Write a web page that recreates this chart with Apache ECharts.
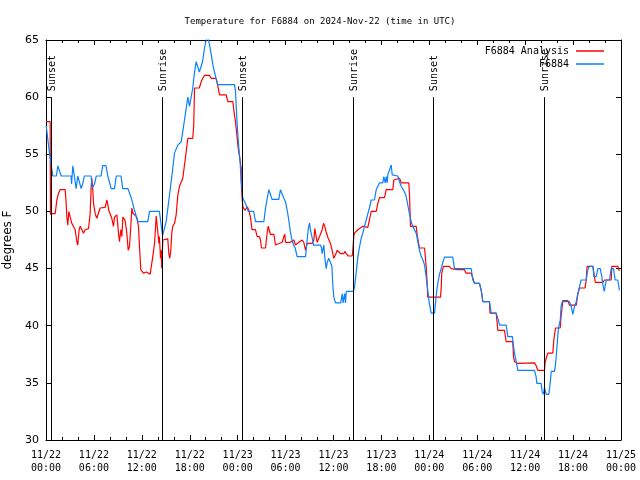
<!DOCTYPE html>
<html><head><meta charset="utf-8">
<script src="https://cdn.jsdelivr.net/npm/echarts@6/dist/echarts.min.js"></script>
<style>html,body{margin:0;padding:0;background:#fff}#c{width:640px;height:480px}</style>
</head><body><div id="c"></div>
<script>
// Hours since 2024-11-22 00:00 UTC, temperature in deg F
const analysis = [[0.02,57.85],[0.52,57.85],[0.56,49.7],[0.6,51.7],[0.65,49.8],[1.15,49.8],[1.36,51.0],[1.57,51.6],[1.77,51.9],[2.4,51.9],[2.52,50.8],[2.61,49.5],[2.73,48.8],[2.86,50.0],[3.03,49.5],[3.23,48.96],[3.44,48.8],[3.65,48.4],[3.86,47.35],[3.98,47.06],[4.15,48.4],[4.28,48.7],[4.49,48.6],[4.7,48.1],[4.9,48.4],[5.11,48.45],[5.32,48.5],[5.53,49.8],[5.66,52.2],[5.74,52.9],[5.86,51.9],[5.95,50.7],[6.16,49.8],[6.36,49.4],[6.57,49.5],[6.78,50.3],[7.41,50.35],[7.62,51.0],[7.74,50.6],[7.86,50.1],[8.03,49.8],[8.24,49.4],[8.45,48.7],[8.58,49.5],[8.7,49.4],[8.87,49.7],[9.08,48.1],[9.2,47.35],[9.37,48.4],[9.5,47.8],[9.62,49.5],[9.83,49.5],[9.91,49.2],[10.12,48.1],[10.29,46.6],[10.45,46.9],[10.62,48.7],[10.75,50.3],[10.87,49.85],[11.37,49.5],[11.58,48.7],[11.7,47.0],[11.87,44.9],[12.2,44.6],[12.6,44.7],[13.04,44.5],[13.25,44.5],[13.37,46.05],[13.59,47.2],[13.8,49.6],[14.0,48.2],[14.13,47.2],[14.2,47.8],[14.34,45.9],[14.42,46.6],[14.5,45.0],[14.63,47.5],[15.25,47.6],[15.38,46.3],[15.5,45.9],[15.63,46.6],[15.75,48.1],[15.88,48.7],[16.09,48.96],[16.3,49.7],[16.5,51.4],[16.72,52.2],[17.13,52.9],[17.34,54.06],[17.55,55.2],[17.76,56.4],[18.38,56.4],[18.5,57.56],[18.6,60.8],[19.2,60.8],[19.43,61.35],[19.63,61.65],[19.85,61.9],[20.47,61.9],[20.68,61.65],[21.3,61.65],[21.5,61.06],[21.73,60.2],[22.56,60.2],[22.77,59.6],[23.4,59.6],[23.6,58.4],[23.73,57.85],[23.9,56.7],[24.02,55.8],[24.23,55.8],[24.44,53.8],[24.48,51.9],[24.65,50.4],[24.9,50.1],[25.2,50.4],[25.4,50.1],[25.6,49.5],[25.73,48.8],[25.8,48.4],[26.23,48.4],[26.44,47.8],[26.57,47.65],[26.73,47.8],[26.86,47.5],[26.98,46.8],[27.49,46.8],[27.7,48.2],[27.82,48.7],[28.1,48.0],[28.53,48.0],[28.74,47.06],[29.57,47.3],[29.78,47.8],[29.9,48.0],[29.99,47.3],[30.6,47.3],[31.03,47.5],[31.24,47.06],[31.45,46.9],[31.66,47.3],[32.08,47.5],[32.28,47.3],[32.5,46.6],[32.7,47.2],[33.33,47.2],[33.54,47.5],[33.66,48.5],[33.83,47.8],[33.96,47.3],[34.25,47.8],[34.41,47.9],[34.58,48.4],[34.75,48.96],[34.91,48.7],[35.08,48.2],[35.33,47.65],[35.62,47.2],[35.83,46.6],[36.04,45.9],[36.25,46.2],[36.46,46.6],[36.88,46.3],[37.29,46.3],[37.42,46.5],[37.6,46.3],[37.84,46.1],[38.34,46.1],[38.42,46.6],[38.55,47.9],[38.63,48.1],[39.05,48.4],[39.67,48.7],[40.3,48.6],[40.5,49.25],[40.72,50.0],[41.35,50.0],[41.55,50.7],[41.76,51.2],[42.39,51.2],[42.6,51.9],[43.43,51.9],[43.55,52.75],[43.64,52.9],[44.27,52.9],[44.48,52.5],[45.43,52.5],[45.52,51.4],[45.64,48.7],[46.36,48.7],[46.48,47.9],[46.77,46.8],[47.4,46.8],[47.6,45.2],[47.73,43.7],[47.8,42.5],[49.4,42.5],[49.5,43.5],[49.55,44.6],[49.77,45.2],[50.5,45.2],[50.73,45.0],[51.56,44.9],[52.4,44.9],[52.6,44.6],[53.24,44.6],[53.45,44.15],[53.66,43.7],[54.28,43.7],[54.5,43.1],[54.7,42.1],[55.53,42.1],[55.6,41.1],[56.37,41.1],[56.58,39.6],[57.41,39.6],[57.62,38.6],[58.45,38.6],[58.54,37.3],[58.67,36.85],[59.08,36.7],[61.17,36.75],[61.38,36.5],[61.58,36.1],[62.42,36.1],[62.5,36.8],[62.63,37.15],[62.83,37.6],[63.46,37.6],[63.59,38.75],[63.8,39.8],[64.39,39.8],[64.5,40.8],[64.64,41.7],[64.72,42.2],[65.34,42.2],[65.55,41.8],[66.4,41.8],[66.6,42.8],[66.8,43.3],[67.5,43.3],[67.64,44.0],[67.76,45.2],[68.47,45.2],[68.68,44.3],[68.77,43.8],[69.72,43.8],[69.93,44.0],[70.77,44.0],[70.85,45.2],[71.6,45.2],[71.74,44.9],[71.8,44.8]];

const observed = [[0.03,57.5],[0.19,56.5],[0.44,55.1],[0.63,54.2],[0.85,53.1],[1.3,53.1],[1.48,54.0],[1.7,54.0],[1.9,53.1],[3.15,53.1],[3.2,52.4],[3.36,54.0],[3.57,54.0],[3.78,52.0],[3.98,53.1],[4.2,53.1],[4.4,52.0],[4.6,52.4],[4.8,53.1],[5.66,53.1],[5.76,52.0],[6.07,52.4],[6.3,53.1],[6.9,53.1],[7.1,54.0],[7.5,54.0],[7.74,53.1],[7.95,53.1],[8.16,52.0],[8.58,52.0],[8.8,53.1],[9.4,53.1],[9.6,52.0],[10.25,52.0],[10.67,51.2],[10.87,51.2],[11.08,50.1],[11.3,50.1],[11.5,49.1],[12.75,49.1],[12.96,50.0],[14.2,50.0],[14.4,48.9],[14.6,47.9],[14.8,48.0],[15.05,49.1],[15.26,50.3],[15.46,51.4],[15.67,52.6],[15.88,53.8],[16.09,55.1],[16.5,55.8],[16.93,56.1],[17.13,57.0],[17.34,58.0],[17.55,59.0],[17.76,60.0],[17.97,59.2],[18.18,59.2],[18.38,60.8],[18.6,62.2],[18.8,63.1],[19.0,63.1],[19.2,62.2],[19.4,62.2],[19.6,63.1],[19.85,64.3],[20.06,65.0],[20.26,65.3],[20.47,64.6],[20.7,63.7],[20.9,62.8],[21.1,62.2],[21.3,61.6],[21.5,61.1],[23.6,61.1],[23.73,60.5],[23.9,58.1],[24.0,57.0],[24.15,55.5],[24.3,54.4],[24.44,52.6],[24.65,51.15],[24.98,50.7],[25.32,50.0],[26.0,50.0],[26.23,49.1],[27.28,49.1],[27.49,50.3],[27.7,51.15],[27.9,51.9],[28.1,51.5],[28.3,51.06],[29.15,51.06],[29.36,51.9],[29.57,51.9],[29.78,51.15],[29.99,50.85],[30.2,50.1],[30.4,49.25],[30.6,48.2],[30.8,47.5],[31.0,47.06],[31.2,46.8],[31.45,46.05],[32.5,46.05],[32.7,47.5],[32.83,48.4],[33.0,49.0],[33.1,48.4],[33.3,47.8],[33.5,47.06],[34.37,47.06],[34.5,46.8],[34.58,46.3],[34.79,47.06],[34.9,46.05],[35.08,45.0],[35.2,45.5],[35.4,45.9],[35.6,45.9],[35.8,45.2],[35.9,43.7],[36.04,42.5],[36.25,42.0],[36.9,42.0],[37.1,42.8],[37.2,42.0],[37.4,42.8],[37.5,42.0],[37.6,43.0],[38.5,43.0],[38.63,43.4],[38.84,44.6],[39.05,46.05],[39.26,46.9],[39.47,47.65],[39.67,48.1],[39.88,48.7],[40.1,49.25],[40.3,49.8],[40.5,50.3],[40.72,51.0],[41.13,51.0],[41.35,51.9],[41.76,52.5],[42.17,52.5],[42.3,53.04],[42.47,52.5],[42.6,53.04],[42.72,52.5],[42.8,53.2],[43.0,53.6],[43.23,54.06],[43.35,53.2],[44.05,53.1],[44.27,52.6],[44.48,52.2],[44.9,51.7],[45.1,51.3],[45.3,50.6],[45.5,49.8],[45.73,49.1],[45.93,48.7],[46.14,48.4],[46.36,48.1],[46.56,47.35],[46.77,46.6],[46.98,46.05],[47.2,45.75],[47.4,45.3],[47.6,44.3],[47.8,43.1],[48.0,41.96],[48.23,41.1],[48.65,41.1],[48.77,41.96],[48.94,43.1],[49.06,43.7],[49.27,44.5],[49.48,45.0],[49.77,45.75],[49.9,46.0],[50.94,46.0],[51.15,45.0],[53.24,45.0],[53.45,44.0],[53.66,43.7],[54.28,43.7],[54.5,43.1],[54.7,42.1],[55.53,42.1],[55.75,41.1],[56.37,41.1],[56.58,40.65],[56.8,40.06],[57.62,40.06],[57.83,39.04],[58.4,39.04],[58.54,38.2],[58.67,37.6],[58.88,36.85],[59.08,36.1],[61.17,36.1],[61.38,35.5],[61.46,34.96],[62.0,34.96],[62.13,34.23],[62.3,34.0],[62.42,34.6],[62.63,34.0],[62.96,34.0],[63.14,35.0],[63.26,36.0],[63.67,36.0],[63.8,36.6],[63.96,37.9],[64.09,39.2],[64.2,39.9],[64.4,40.5],[64.5,41.7],[64.64,42.1],[65.55,42.1],[65.76,41.7],[65.97,41.0],[66.18,41.7],[66.4,42.1],[66.6,42.8],[66.8,43.4],[67.0,44.0],[67.64,44.0],[67.84,44.9],[68.06,45.2],[68.5,45.2],[68.6,44.3],[68.9,44.3],[69.1,45.0],[69.4,45.0],[69.6,44.3],[69.7,43.7],[69.9,43.0],[70.15,44.0],[70.56,44.0],[70.77,45.0],[71.06,45.0],[71.27,44.0],[71.6,44.0],[71.8,43.1]];

const eventTimes = [0.6, 14.5, 24.5, 38.5, 48.5, 62.4];
const eventNames = ['Sunset', 'Sunrise', 'Sunset', 'Sunrise', 'Sunset', 'Sunrise'];
const eventTop = 60;
const xTickLabels = ['11/22\n00:00','11/22\n06:00','11/22\n12:00','11/22\n18:00','11/23\n00:00','11/23\n06:00','11/23\n12:00','11/23\n18:00','11/24\n00:00','11/24\n06:00','11/24\n12:00','11/24\n18:00','11/25\n00:00'];
const seriesNames = ['F6884 Analysis', 'F6884'];
const titleText = 'Temperature for F6884 on 2024-Nov-22 (time in UTC)';
const yName = 'degrees F';

const MONO = '"DejaVu Sans Mono", "Liberation Mono", monospace';
const SANS = '"DejaVu Sans", "Liberation Sans", sans-serif';

const chart = echarts.init(document.getElementById('c'), null, {renderer: 'canvas'});
const xBase = {
  type: 'value', min: 0, max: 72, interval: 6,
  axisLine: {show: true, onZero: false, lineStyle: {color: '#000', width: 1}},
  axisTick: {show: true, inside: true, length: 5, lineStyle: {color: '#000'}},
  minorTick: {show: true, splitNumber: 3, length: 3, lineStyle: {color: '#000'}},
  splitLine: {show: false}, minorSplitLine: {show: false}
};
const yBase = {
  type: 'value', min: 30, max: 65, interval: 5,
  axisLine: {show: true, onZero: false, lineStyle: {color: '#000', width: 1}},
  axisTick: {show: true, inside: true, length: 5, lineStyle: {color: '#000'}},
  splitLine: {show: false}
};
chart.setOption({
  backgroundColor: '#fff',
  animation: false,
  title: {
    text: titleText, left: 'center', top: 12,
    textStyle: {fontFamily: MONO, fontSize: 9, fontWeight: 'normal', color: '#000'}
  },
  legend: {
    data: seriesNames, orient: 'vertical', right: 31, top: 41,
    align: 'right', icon: 'rect', itemWidth: 28, itemHeight: 1.5, itemGap: 3,
    textStyle: {fontFamily: MONO, fontSize: 10, color: '#000', padding: [0, 2, 0, 0]}
  },
  grid: {left: 46, right: 19, top: 40, height: 400, show: false, containLabel: false, outerBoundsMode: 'none'},
  xAxis: [
    Object.assign({}, xBase, {position: 'bottom',
      axisLabel: {show: true, margin: 9, color: '#000', fontFamily: MONO, fontSize: 10, lineHeight: 13,
        formatter: v => xTickLabels[Math.round(v / 6)]}}),
    Object.assign({}, xBase, {position: 'top', axisLabel: {show: false}})
  ],
  yAxis: [
    Object.assign({}, yBase, {position: 'left', name: yName, nameLocation: 'middle', nameGap: 30, nameRotate: 90,
      nameTextStyle: {fontFamily: SANS, fontSize: 12, color: '#000'},
      axisLabel: {show: true, margin: 7, color: '#000', fontFamily: SANS, fontSize: 11}}),
    Object.assign({}, yBase, {position: 'right', axisLabel: {show: false}})
  ],
  series: [
    {name: seriesNames[0], type: 'line', data: analysis, showSymbol: false, symbol: 'none',
     color: '#ff0000', lineStyle: {color: '#ff0000', width: 1.2}, clip: true, z: 2},
    {name: seriesNames[1], type: 'line', data: observed, showSymbol: false, symbol: 'none',
     color: '#0a80ff', lineStyle: {color: '#0a80ff', width: 1.2}, clip: true, z: 3},
    {name: 'events', type: 'custom', data: eventTimes.map(t => [t, 30]), z: 4, clip: false,
     renderItem: function (params, api) {
       const t = api.value(0);
       const top = api.coord([t, eventTop]);
       const bot = api.coord([t, 30]);
       const x = Math.round(top[0]) + 0.5;
       return {type: 'group', children: [
         {type: 'line', shape: {x1: x, y1: top[1], x2: x, y2: bot[1]}, style: {stroke: '#000', lineWidth: 1}},
         {type: 'text', x: x + 1, y: top[1] - 6, rotation: Math.PI / 2,
          style: {text: eventNames[params.dataIndex], font: '10px ' + MONO, fill: '#000', align: 'left', verticalAlign: 'middle'}}
       ]};
     }}
  ]
});
</script></body></html>
